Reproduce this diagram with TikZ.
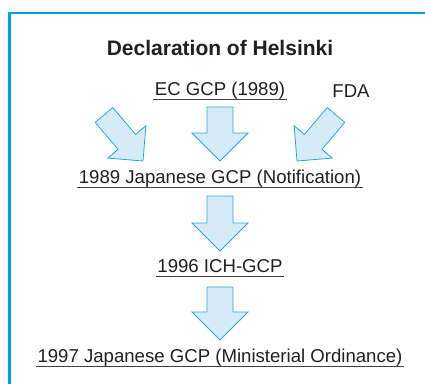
\documentclass[tikz,border=0pt]{standalone}
\usepackage{fontspec}
\setmainfont{Liberation Sans}
\usepackage{tikz}
\usepackage{xcolor}
\usetikzlibrary{calc, positioning}

\definecolor{framecol}{HTML}{00A0E9}
\definecolor{arrowline}{HTML}{29A6DE}
\definecolor{arrowfill}{HTML}{D5ECF8}
\definecolor{inkcol}{HTML}{231F20}

\tikzset{
    item/.style={anchor=base, inner xsep=1.5pt, inner ysep=0pt, text=inkcol,
        font=\fontsize{18.6}{22}\selectfont},
    heading/.style={anchor=base, inner sep=0pt, text=inkcol,
        font=\fontsize{21}{25}\selectfont\bfseries},
    uline/.style={draw=inkcol!85, line width=1.3pt},
    fat/.style n args={3}{draw=arrowline, fill=arrowfill, line width=0.8pt,
        line join=miter, to path={
            ($(\tikztostart)!#1!90:(\tikztotarget)$)
            -- ($(\tikztotarget)!#3!(\tikztostart)!#1!90:(\tikztotarget)$)
            -- ($(\tikztotarget)!#3!(\tikztostart)!#2!90:(\tikztotarget)$)
            -- (\tikztotarget)
            -- ($(\tikztotarget)!#3!(\tikztostart)!#2!-90:(\tikztotarget)$)
            -- ($(\tikztotarget)!#3!(\tikztostart)!#1!-90:(\tikztotarget)$)
            -- ($(\tikztostart)!#1!-90:(\tikztotarget)$) -- cycle}},
    straight/.style={fat={13pt}{28pt}{28pt}},
    slanted/.style={fat={11.5pt}{25pt}{25pt}}
}

\begin{document}
\begin{tikzpicture}[x=1pt, y=-1pt]
    \useasboundingbox (0,0) rectangle (425,383);
    \draw[framecol, line width=2.5pt] (9.7,12.8) rectangle (460,420);

    \node[heading] (title) at (220,55) {Declaration of Helsinki};
    \node[item] (ec) at (220,95.5) {EC GCP (1989)};
    \node[item] (fda) at (351,97) {FDA};
    \node[item] (jp89) at (220,183.5) {1989 Japanese GCP (Notification)};
    \node[item] (ich) at (220,272.7) {1996 ICH-GCP};
    \node[item] (jp97) at (220,362.7) {1997 Japanese GCP (Ministerial Ordinance)};

    % underlines
    \foreach \n in {ec, jp89, ich, jp97}
        \draw[uline] ([yshift=-4pt]\n.base west) -- ([yshift=-4pt]\n.base east);

    % arrow ends
    \coordinate (helsinkiout) at (104,115);
    \coordinate (ecout) at (220,107);
    \coordinate (fdaout) at (336,115);
    \coordinate (leftin) at (143,161);
    \coordinate (midin) at (220,161);
    \coordinate (rightin) at (297,161);
    \coordinate (jp89out) at (220,196);
    \coordinate (ichin) at (220,251);
    \coordinate (ichout) at (220,287);
    \coordinate (jp97in) at (220,340);

    \draw[slanted] (helsinkiout) to (leftin);
    \draw[straight] (ecout) to (midin);
    \draw[slanted] (fdaout) to (rightin);
    \draw[straight] (jp89out) to (ichin);
    \draw[straight] (ichout) to (jp97in);
\end{tikzpicture}
\end{document}
